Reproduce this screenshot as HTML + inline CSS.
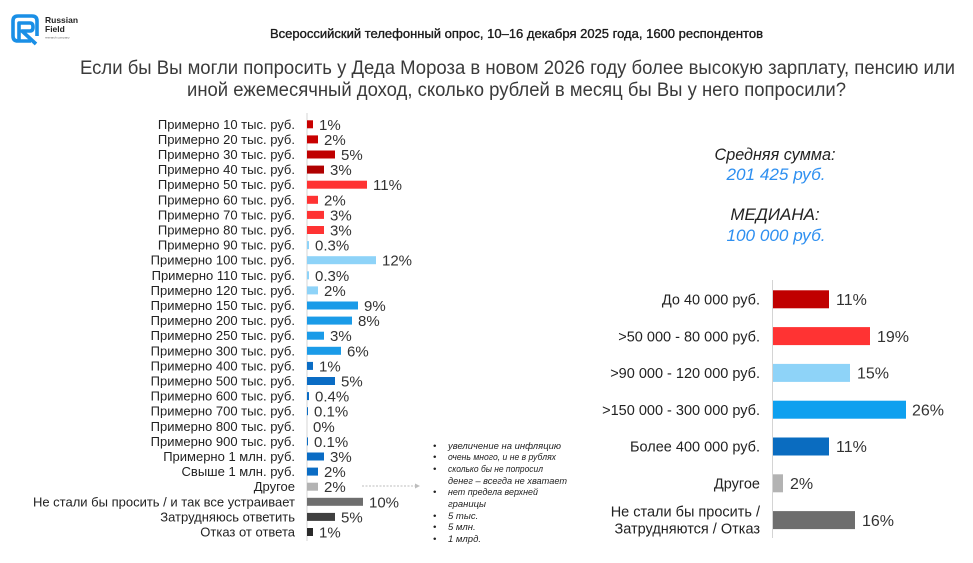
<!DOCTYPE html>
<html><head><meta charset="utf-8">
<style>
html,body{margin:0;padding:0;background:#fff;}
svg{display:block;font-family:"Liberation Sans","Noto Sans CJK JP",sans-serif;}
</style></head>
<body>
<svg width="973" height="563" viewBox="0 0 973 563" xmlns="http://www.w3.org/2000/svg">
<rect width="973" height="563" fill="#fff"/>
<!-- logo -->
<g fill="none" stroke="#1a8fe6" stroke-width="3.6" stroke-linejoin="round">
  <path d="M31 41 H18 Q13 41 13 36 V21 Q13 16 18 16 H32 Q37 16 37 21 V36"/>
  <path d="M19 41 V23 H30 Q33 23 33 27 Q33 31 30 31 H22 L36 44"/>
</g>
<text x="45" y="23" font-size="8.5" font-weight="bold" fill="#222">Russian</text>
<text x="45" y="32" font-size="8.5" font-weight="bold" fill="#222">Field</text>
<text x="45" y="38.5" font-size="3" fill="#666">research company</text>

<!-- header -->
<text x="270" y="38" font-size="13" fill="#1a1a1a" stroke="#1a1a1a" stroke-width="0.35" textLength="493" lengthAdjust="spacingAndGlyphs">Всероссийский телефонный опрос, 10–16 декабря 2025 года, 1600 респондентов</text>
<text x="80" y="74" font-size="19.5" fill="#3a3a3a" textLength="875" lengthAdjust="spacingAndGlyphs">Если бы Вы могли попросить у Деда Мороза в новом 2026 году более высокую зарплату, пенсию или</text>
<text x="187" y="96" font-size="19.5" fill="#3a3a3a" textLength="659" lengthAdjust="spacingAndGlyphs">иной ежемесячный доход, сколько рублей в месяц бы Вы у него попросили?</text>

<!-- left chart -->
<line x1="307" y1="113" x2="307" y2="541" stroke="#d4d4d4" stroke-width="1"/>
<g font-size="13" fill="#222" text-anchor="end">
<text x="295" y="128.8">Примерно 10 тыс. руб.</text>
<text x="295" y="143.9">Примерно 20 тыс. руб.</text>
<text x="295" y="159.0">Примерно 30 тыс. руб.</text>
<text x="295" y="174.1">Примерно 40 тыс. руб.</text>
<text x="295" y="189.2">Примерно 50 тыс. руб.</text>
<text x="295" y="204.3">Примерно 60 тыс. руб.</text>
<text x="295" y="219.4">Примерно 70 тыс. руб.</text>
<text x="295" y="234.5">Примерно 80 тыс. руб.</text>
<text x="295" y="249.6">Примерно 90 тыс. руб.</text>
<text x="295" y="264.7">Примерно 100 тыс. руб.</text>
<text x="295" y="279.8">Примерно 110 тыс. руб.</text>
<text x="295" y="294.9">Примерно 120 тыс. руб.</text>
<text x="295" y="310.0">Примерно 150 тыс. руб.</text>
<text x="295" y="325.1">Примерно 200 тыс. руб.</text>
<text x="295" y="340.2">Примерно 250 тыс. руб.</text>
<text x="295" y="355.3">Примерно 300 тыс. руб.</text>
<text x="295" y="370.4">Примерно 400 тыс. руб.</text>
<text x="295" y="385.5">Примерно 500 тыс. руб.</text>
<text x="295" y="400.6">Примерно 600 тыс. руб.</text>
<text x="295" y="415.7">Примерно 700 тыс. руб.</text>
<text x="295" y="430.8">Примерно 800 тыс. руб.</text>
<text x="295" y="445.9">Примерно 900 тыс. руб.</text>
<text x="295" y="461.0">Примерно 1 млн. руб.</text>
<text x="295" y="476.1">Свыше 1 млн. руб.</text>
<text x="295" y="491.2">Другое</text>
<text x="295" y="506.3">Не стали бы просить / и так все устраивает</text>
<text x="295" y="521.4">Затрудняюсь ответить</text>
<text x="295" y="536.5">Отказ от ответа</text>
</g>
<g>
<rect x="307" y="120.3" width="6" height="8" fill="#c80000"/>
<rect x="307" y="135.4" width="11" height="8" fill="#c80000"/>
<rect x="307" y="150.5" width="28" height="8" fill="#c00000"/>
<rect x="307" y="165.6" width="17" height="8" fill="#b00000"/>
<rect x="307" y="180.7" width="60" height="8" fill="#ff3333"/>
<rect x="307" y="195.8" width="11" height="8" fill="#ff3333"/>
<rect x="307" y="210.9" width="17" height="8" fill="#ff3333"/>
<rect x="307" y="226.0" width="17" height="8" fill="#ff3333"/>
<rect x="307" y="241.1" width="2" height="8" fill="#8ed3f8"/>
<rect x="307" y="256.2" width="69" height="8" fill="#8ed3f8"/>
<rect x="307" y="271.3" width="2" height="8" fill="#8ed3f8"/>
<rect x="307" y="286.4" width="11" height="8" fill="#8ed3f8"/>
<rect x="307" y="301.5" width="51" height="8" fill="#1a9be8"/>
<rect x="307" y="316.6" width="45" height="8" fill="#1a9be8"/>
<rect x="307" y="331.7" width="17" height="8" fill="#1a9be8"/>
<rect x="307" y="346.8" width="34" height="8" fill="#1a9be8"/>
<rect x="307" y="361.9" width="6" height="8" fill="#0a6cc4"/>
<rect x="307" y="377.0" width="28" height="8" fill="#0a6cc4"/>
<rect x="307" y="392.1" width="2" height="8" fill="#0a6cc4"/>
<rect x="307" y="407.2" width="1" height="8" fill="#0a6cc4"/>
<rect x="307" y="437.4" width="1" height="8" fill="#0a6cc4"/>
<rect x="307" y="452.5" width="17" height="8" fill="#0a6cc4"/>
<rect x="307" y="467.6" width="11" height="8" fill="#0a6cc4"/>
<rect x="307" y="482.7" width="11" height="8" fill="#b3b3b3"/>
<rect x="307" y="497.8" width="56" height="8" fill="#6e6e6e"/>
<rect x="307" y="512.9" width="28" height="8" fill="#404040"/>
<rect x="307" y="528.0" width="6" height="8" fill="#2a2a2a"/>
</g>
<g font-size="15" fill="#333">
<text x="319" y="129.8">1%</text>
<text x="324" y="144.9">2%</text>
<text x="341" y="160.0">5%</text>
<text x="330" y="175.1">3%</text>
<text x="373" y="190.2">11%</text>
<text x="324" y="205.3">2%</text>
<text x="330" y="220.4">3%</text>
<text x="330" y="235.5">3%</text>
<text x="315" y="250.6">0.3%</text>
<text x="382" y="265.7">12%</text>
<text x="315" y="280.8">0.3%</text>
<text x="324" y="295.9">2%</text>
<text x="364" y="311.0">9%</text>
<text x="358" y="326.1">8%</text>
<text x="330" y="341.2">3%</text>
<text x="347" y="356.3">6%</text>
<text x="319" y="371.4">1%</text>
<text x="341" y="386.5">5%</text>
<text x="315" y="401.6">0.4%</text>
<text x="314" y="416.7">0.1%</text>
<text x="313" y="431.8">0%</text>
<text x="314" y="446.9">0.1%</text>
<text x="330" y="462.0">3%</text>
<text x="324" y="477.1">2%</text>
<text x="324" y="492.2">2%</text>
<text x="369" y="507.3">10%</text>
<text x="341" y="522.4">5%</text>
<text x="319" y="537.5">1%</text>
</g>

<!-- arrow -->
<line x1="362" y1="486" x2="416" y2="486" stroke="#bdbdbd" stroke-width="1" stroke-dasharray="2,1.5"/>
<path d="M415 483.5 L420 486 L415 488.5 Z" fill="#bdbdbd"/>

<!-- notes -->
<g font-size="9.5" font-style="italic" fill="#222">
<text x="433" y="449">•</text><text x="448" y="449" textLength="113" lengthAdjust="spacingAndGlyphs">увеличение на  инфляцию</text>
<text x="433" y="460">•</text><text x="448" y="460" textLength="108" lengthAdjust="spacingAndGlyphs">очень много, и не в рублях</text>
<text x="433" y="472">•</text><text x="448" y="472" textLength="95" lengthAdjust="spacingAndGlyphs">сколько бы не попросил</text>
<text x="448" y="484" textLength="119" lengthAdjust="spacingAndGlyphs">денег – всегда не хватает</text>
<text x="433" y="495">•</text><text x="448" y="495" textLength="90" lengthAdjust="spacingAndGlyphs">нет предела верхней</text>
<text x="448" y="507" textLength="38" lengthAdjust="spacingAndGlyphs">границы</text>
<text x="433" y="519">•</text><text x="448" y="519">5 тыс.</text>
<text x="433" y="530">•</text><text x="448" y="530">5 млн.</text>
<text x="433" y="542">•</text><text x="448" y="542">1 млрд.</text>
</g>

<!-- stats -->
<g font-size="17" font-style="italic" text-anchor="middle">
<text x="775" y="160" fill="#222" textLength="121" lengthAdjust="spacingAndGlyphs">Средняя сумма:</text>
<text x="776" y="180" fill="#2e8ff0" textLength="99" lengthAdjust="spacingAndGlyphs">201 425 руб.</text>
<text x="775" y="220" fill="#222">МЕДИАНА:</text>
<text x="776" y="241" fill="#2e8ff0" textLength="99" lengthAdjust="spacingAndGlyphs">100 000 руб.</text>
</g>

<!-- right chart -->
<line x1="772.5" y1="280" x2="772.5" y2="538" stroke="#d4d4d4" stroke-width="1"/>
<g font-size="14.5" fill="#222" text-anchor="end">
<text x="760" y="304.5">До 40 000 руб.</text>
<text x="760" y="341.3">&gt;50 000 - 80 000 руб.</text>
<text x="760" y="378.1">&gt;90 000 - 120 000 руб.</text>
<text x="760" y="414.9">&gt;150 000 - 300 000 руб.</text>
<text x="760" y="451.7">Более 400 000 руб.</text>
<text x="760" y="488.5">Другое</text>
<text x="760" y="516.5">Не стали бы просить /</text>
<text x="760" y="533.5">Затрудняются / Отказ</text>
</g>
<rect x="773" y="290.3" width="56" height="18" fill="#c00000"/>
<rect x="773" y="327.1" width="97" height="18" fill="#ff3333"/>
<rect x="773" y="363.9" width="77" height="18" fill="#8ed3f8"/>
<rect x="773" y="400.7" width="133" height="18" fill="#0ea0ef"/>
<rect x="773" y="437.5" width="56" height="18" fill="#0a6cc0"/>
<rect x="773" y="474.3" width="10" height="18" fill="#b3b3b3"/>
<rect x="773" y="511.1" width="82" height="18" fill="#6e6e6e"/>
<g font-size="16" fill="#333">
<text x="836" y="305">11%</text>
<text x="877" y="341.8">19%</text>
<text x="857" y="378.6">15%</text>
<text x="912" y="415.4">26%</text>
<text x="836" y="452.2">11%</text>
<text x="790" y="489">2%</text>
<text x="862" y="525.8">16%</text>
</g>
</svg>
</body></html>
